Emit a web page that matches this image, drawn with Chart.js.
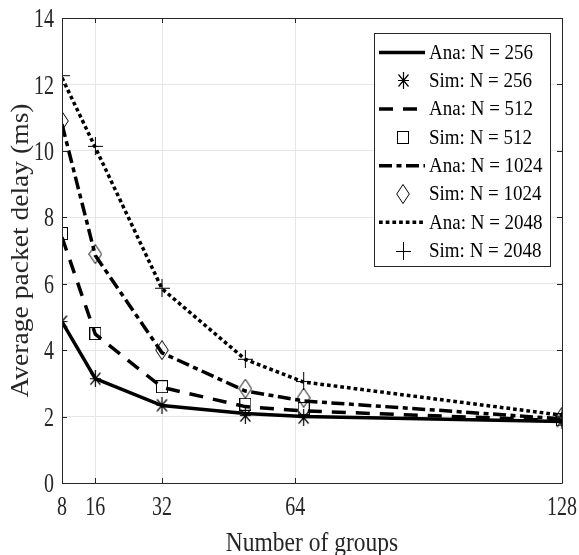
<!DOCTYPE html>
<html>
<head>
<meta charset="utf-8">
<script src="https://cdn.jsdelivr.net/npm/chart.js@4"></script>
<style>
  html, body { margin: 0; padding: 0; background: #fff; }
  #wrap { width: 579px; height: 555px; }
</style>
</head>
<body>
<div id="wrap"><canvas id="myChart" width="579" height="555"></canvas></div>
<script>
// Datos
const groups = [8, 16, 32, 52, 66, 128];
const xTicks = [8, 16, 32, 64, 128];
const ana256 = [4.85, 3.14, 2.33, 2.09, 2.00, 1.85];
const sim256 = [4.86, 3.14, 2.34, 2.03, 1.97, 1.87];
const ana512 = [7.40, 4.48, 2.88, 2.30, 2.17, 1.88];
const sim512 = [7.51, 4.50, 2.90, 2.37, 2.24, 1.90];
const ana1024 = [10.80, 6.85, 3.92, 2.77, 2.47, 1.93];
const sim1024 = [10.90, 6.89, 4.00, 2.84, 2.57, 2.00];
const ana2048 = [12.20, 10.10, 5.85, 3.72, 3.04, 2.04];
const sim2048 = [12.28, 10.15, 5.88, 3.74, 3.07, 2.00];

const FONT = "'Liberation Serif', 'Times New Roman', serif";
const AXIS_COLOR = '#262626';

// Marcadores dibujados en canvas pequeños
function makeMarker(w, h, draw) {
    const c = document.createElement('canvas');
    c.width = w; c.height = h;
    const g = c.getContext('2d');
    g.strokeStyle = '#000';
    g.lineWidth = 1;
    draw(g, w, h);
    return c;
}
const starMk = makeMarker(13, 17, (g) => {
    g.beginPath();
    g.moveTo(6.5, 0); g.lineTo(6.5, 17);
    g.moveTo(1, 8.5); g.lineTo(12, 8.5);
    g.moveTo(1.5, 2.5); g.lineTo(11.5, 14.5);
    g.moveTo(11.5, 2.5); g.lineTo(1.5, 14.5);
    g.lineWidth = 1.2;
    g.stroke();
});
const squareMk = makeMarker(12, 13, (g) => {
    g.strokeRect(0.5, 0.5, 11, 12);
});
const diamondMk = makeMarker(14, 20, (g) => {
    g.beginPath();
    g.moveTo(7, 0.5); g.lineTo(13.3, 10); g.lineTo(7, 19.5); g.lineTo(0.7, 10);
    g.closePath();
    g.stroke();
});
const plusMk = makeMarker(15, 18, (g) => {
    g.beginPath();
    g.moveTo(7.5, 0); g.lineTo(7.5, 18);
    g.moveTo(0, 9.5); g.lineTo(15, 9.5);
    g.stroke();
});

function toXY(ys) {
    return groups.map((x, i) => ({ x: x, y: ys[i] }));
}
function anaSet(label, ys, dash) {
    return {
        label: label, data: toXY(ys), borderColor: '#000', borderWidth: 3.5,
        borderDash: dash, pointRadius: 0, fill: false, tension: 0, borderCapStyle: 'butt'
    };
}
function simSet(label, ys, mk) {
    return {
        label: label, data: toXY(ys), showLine: false, pointStyle: mk,
        pointRadius: 6, borderColor: '#000', backgroundColor: 'transparent'
    };
}

const datasets = [
    anaSet('Ana: N = 256', ana256, []),
    simSet('Sim: N = 256', sim256, starMk),
    anaSet('Ana: N = 512', ana512, [14, 10]),
    simSet('Sim: N = 512', sim512, squareMk),
    anaSet('Ana: N = 1024', ana1024, [13, 4.5, 5, 4.5]),
    simSet('Sim: N = 1024', sim1024, diamondMk),
    anaSet('Ana: N = 2048', ana2048, [3.7, 3]),
    simSet('Sim: N = 2048', sim2048, plusMk)
];

// texto estirado (la figura original esta estirada en vertical)
function drawText(ctx, text, x, y, size, align, baseline, sx, sy, rot) {
    ctx.save();
    ctx.translate(x, y);
    if (rot) ctx.rotate(rot);
    ctx.scale(sx, sy);
    ctx.font = size + 'px ' + FONT;
    ctx.textAlign = align;
    ctx.textBaseline = baseline;
    ctx.fillText(text, 0, 0);
    ctx.restore();
}

// Caja, marcas interiores, etiquetas y leyenda
const boxPlugin = {
    id: 'boxPlugin',
    afterDraw(chart) {
        const ctx = chart.ctx;
        const a = chart.chartArea;
        const xs = chart.scales.x, ys = chart.scales.y;
        ctx.save();
        ctx.strokeStyle = AXIS_COLOR;
        ctx.lineWidth = 1;
        ctx.beginPath();
        ctx.rect(a.left + 0.5, a.top + 0.5, a.right - a.left, a.bottom - a.top);
        xs.ticks.forEach(t => {
            const px = Math.round(xs.getPixelForValue(t.value)) + 0.5;
            ctx.moveTo(px, a.bottom); ctx.lineTo(px, a.bottom - 5);
            ctx.moveTo(px, a.top); ctx.lineTo(px, a.top + 5);
        });
        ys.ticks.forEach(t => {
            const py = Math.round(ys.getPixelForValue(t.value)) + 0.5;
            ctx.moveTo(a.left, py); ctx.lineTo(a.left + 5, py);
            ctx.moveTo(a.right, py); ctx.lineTo(a.right - 5, py);
        });
        ctx.stroke();

        // etiquetas de los ejes
        ctx.fillStyle = AXIS_COLOR;
        xs.ticks.forEach(t => {
            drawText(ctx, String(t.value), xs.getPixelForValue(t.value), 508, 20, 'center', 'middle', 1, 1.35);
        });
        ys.ticks.forEach(t => {
            drawText(ctx, String(t.value), a.left - 8, ys.getPixelForValue(t.value) + 2, 20, 'right', 'middle', 1, 1.35);
        });
        drawText(ctx, 'Number of groups', (a.left + a.right) / 2, 551, 23.5, 'center', 'alphabetic', 1, 1.16);
        drawText(ctx, 'Average packet delay (ms)', 28, (a.top + a.bottom) / 2, 26, 'center', 'alphabetic', 1.06, 1, -Math.PI / 2);

        // leyenda
        const lx = 374, ly = 33, lw = 176, lh = 233;
        ctx.fillStyle = '#fff';
        ctx.fillRect(lx, ly, lw, lh);
        ctx.strokeStyle = AXIS_COLOR;
        ctx.lineWidth = 1;
        ctx.strokeRect(lx + 0.5, ly + 0.5, lw, lh);
        chart.data.datasets.forEach((ds, i) => {
            const y = ly + 19.5 + i * 28.3;
            if (ds.showLine === false) {
                const mk = ds.pointStyle;
                ctx.drawImage(mk, Math.round(403 - mk.width / 2), Math.round(y - mk.height / 2));
            } else {
                ctx.strokeStyle = '#000';
                ctx.lineWidth = ds.borderWidth;
                ctx.setLineDash(ds.borderDash);
                ctx.beginPath();
                ctx.moveTo(379, y); ctx.lineTo(425, y);
                ctx.stroke();
                ctx.setLineDash([]);
            }
            ctx.fillStyle = '#000';
            drawText(ctx, ds.label, 429, y + 1, 19, 'left', 'middle', 1, 1.05);
        });
        ctx.restore();
    }
};

const ctx = document.getElementById('myChart').getContext('2d');
new Chart(ctx, {
    type: 'line',
    data: { datasets: datasets },
    options: {
        responsive: false,
        animation: false,
        layout: { padding: { top: 18, right: 17, left: 0, bottom: 0 } },
        plugins: { legend: { display: false }, tooltip: { enabled: false } },
        scales: {
            x: {
                type: 'linear', min: 8, max: 128,
                afterBuildTicks: (scale) => { scale.ticks = xTicks.map(v => ({ value: v })); },
                afterFit: (scale) => { scale.height = 72; },
                grid: { color: '#e6e6e6', drawTicks: false },
                border: { display: false },
                ticks: { display: false }
            },
            y: {
                min: 0, max: 14,
                afterFit: (scale) => { scale.width = 62; },
                grid: { color: '#e6e6e6', drawTicks: false },
                border: { display: false },
                ticks: { display: false, stepSize: 2 }
            }
        }
    },
    plugins: [boxPlugin]
});
</script>
</body>
</html>
